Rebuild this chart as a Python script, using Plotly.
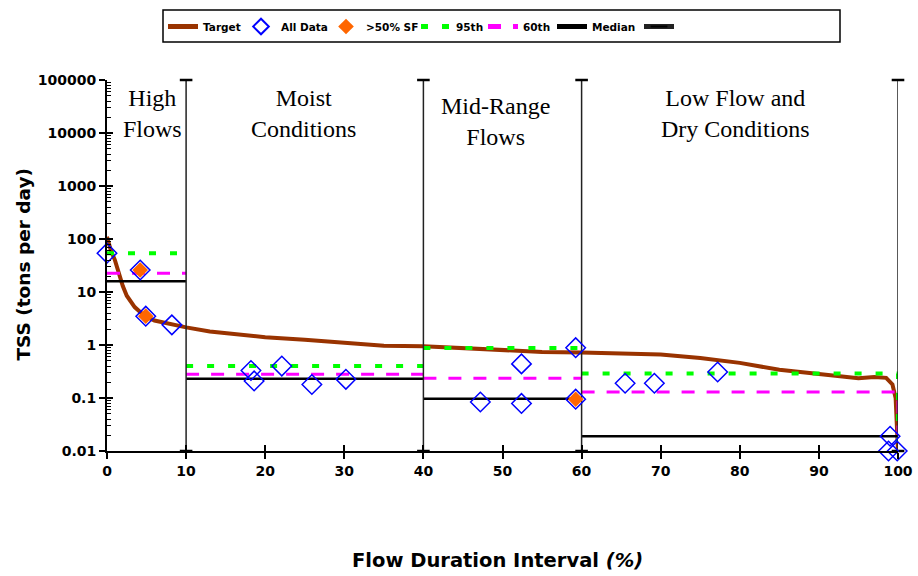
import plotly.graph_objects as go

# ---------------- data ----------------
target_x = [0, 0.5, 1, 1.5, 2, 2.5, 3, 3.5, 4.5, 5, 6, 8, 10, 13, 20, 25, 30, 35, 40, 45,
            50, 55, 60, 65, 70, 75, 80, 85, 90, 93, 95, 97, 98.5, 99.3, 99.7, 100]
target_y = [110, 60, 40, 22, 13, 8.5, 6.5, 5.2, 3.8, 3.4, 2.9, 2.5, 2.15, 1.8, 1.4, 1.25, 1.1,
            0.97, 0.95, 0.88, 0.82, 0.74, 0.72, 0.70, 0.66, 0.57, 0.46, 0.34, 0.28, 0.25,
            0.235, 0.25, 0.24, 0.18, 0.10, 0.01]

all_x = [0, 4.2, 4.9, 8.2, 18.2, 18.6, 22.1, 25.9, 30.2, 47.2, 52.4, 52.4, 59.25, 59.25,
         65.5, 69.2, 77.2, 99.0, 98.8, 99.9]
all_y = [54, 26, 3.5, 2.4, 0.33, 0.21, 0.40, 0.18, 0.225, 0.084, 0.44, 0.079, 0.89, 0.095,
         0.19, 0.19, 0.31, 0.019, 0.01, 0.01]

sf_x = [4.2, 4.9, 59.25]
sf_y = [26, 3.5, 0.095]

zone_edges = [0, 10, 40, 60, 100]
p95 = [54, 0.40, 0.88, 0.29]
p60 = [22.5, 0.28, 0.235, 0.13]
median = [16, 0.23, 0.097, 0.019]
floor_val = 0.01
top_val = 100000

y_tick_vals = [0.01, 0.1, 1, 10, 100, 1000, 10000, 100000]
y_tick_text = ["0.01", "0.1", "1", "10", "100", "1000", "10000", "100000"]

zone_labels = ["High<br>Flows", "Moist<br>Conditions", "Mid-Range<br>Flows",
               "Low Flow and<br>Dry Conditions"]
zone_label_x = [5.7, 24.9, 49.1, 79.5]
zone_label_y = [0.991, 0.991, 0.970, 0.991]

# ---------------- layout helpers ----------------
W, H = 918, 576
ML, MR, MT, MB = 107, 20, 80, 125
PW, PH = W - ML - MR, H - MT - MB


def px_to_paper_x(px):
    return (px - ML) / PW


def px_to_paper_y(py):
    return (H - MB - py) / PH


def steps(vals, drop_end=False):
    xs, ys = [], []
    for i, v in enumerate(vals):
        xs += [zone_edges[i], zone_edges[i + 1]]
        ys += [v, v]
        if drop_end and i == len(vals) - 1:
            xs.append(zone_edges[i + 1])
            ys.append(floor_val)
        xs.append(None)
        ys.append(None)
    return xs, ys


div_x, div_y = [], []
for e in zone_edges[1:]:
    div_x += [e, e, None]
    div_y += [floor_val, top_val, None]

minor_vals = [m * v for v in y_tick_vals[:-1] for m in range(2, 10)]

FONT = "DejaVu Sans, sans-serif"
legend_font = dict(family=FONT, size=10.5, color="black", weight="bold")
legend_left_px = [163, 241, 326, 416, 483, 552, 639]
legend_names = ["legend", "legend2", "legend3", "legend4", "legend5", "legend6", "legend7"]

fig = go.Figure()
fig.add_trace(go.Scatter(x=target_x, y=target_y, mode="lines", name="Target",
                         line=dict(color="#993300", width=4), legend="legend"))
x95, y95 = steps(p95, True)
fig.add_trace(go.Scatter(x=x95, y=y95, mode="lines", name="95th",
                         line=dict(color="#00FF00", width=4, dash="7px,14px"),
                         legend="legend4"))
x60, y60 = steps(p60, True)
fig.add_trace(go.Scatter(x=x60, y=y60, mode="lines", name="60th",
                         line=dict(color="#FF00FF", width=3, dash="13px,12px"),
                         legend="legend5"))
xm, ym = steps(median)
fig.add_trace(go.Scatter(x=xm, y=ym, mode="lines", name="Median",
                         line=dict(color="black", width=2.5), legend="legend6"))
fig.add_trace(go.Scatter(x=div_x, y=div_y, mode="lines+markers", name="\u00a0",
                         line=dict(color="#222", width=1.5),
                         marker=dict(symbol="line-ew", size=9,
                                     line=dict(color="black", width=2.5)),
                         cliponaxis=False, legend="legend7"))
fig.add_trace(go.Scatter(x=all_x, y=all_y, mode="markers", name="All Data",
                         marker=dict(symbol="diamond-open", size=15,
                                     line=dict(color="#0000FF", width=1.5), color="#0000FF"),
                         cliponaxis=False, legend="legend2"))
fig.add_trace(go.Scatter(x=sf_x, y=sf_y, mode="markers", name=">50% SF",
                         marker=dict(symbol="diamond", size=12, color="#FF6600",
                                     line=dict(width=0)),
                         cliponaxis=False, legend="legend3"))
# helper trace for the overlaying axes (cross ticks)
fig.add_trace(go.Scatter(x=[None], y=[None], xaxis="x2", yaxis="y2", showlegend=False,
                         hoverinfo="skip"))

for txt, xx, yy in zip(zone_labels, zone_label_x, zone_label_y):
    fig.add_annotation(text=txt, x=xx, xref="x", y=yy, yref="paper", yanchor="top",
                       showarrow=False, align="center",
                       font=dict(family="Liberation Serif, Times New Roman, serif",
                                 size=24, color="black"))

fig.add_annotation(text="Flow Duration Interval <i>(%)</i>", x=0.494, xref="paper",
                   y=-0.295, yref="paper", yanchor="middle", showarrow=False,
                   font=dict(family=FONT, size=19.5, color="black", weight="bold"))
fig.add_annotation(text="TSS (tons per day)", x=-0.105, xref="paper", xanchor="center",
                   y=0.505, yref="paper", yanchor="middle",
                   textangle=-90, showarrow=False,
                   font=dict(family=FONT, size=18.5, color="black", weight="bold"))

# legend frame
fig.add_shape(type="rect", xref="paper", yref="paper",
              x0=px_to_paper_x(163), x1=px_to_paper_x(840),
              y0=px_to_paper_y(42), y1=px_to_paper_y(10),
              line=dict(color="black", width=1.5), fillcolor="white", layer="below")

legend_layout = {}
for name, lx in zip(legend_names, legend_left_px):
    legend_layout[name] = dict(orientation="h", x=px_to_paper_x(lx), xanchor="left",
                               y=px_to_paper_y(12), yanchor="top",
                               bgcolor="rgba(0,0,0,0)", borderwidth=0,
                               font=legend_font, itemwidth=30, itemsizing="constant")

axis_font = dict(family=FONT, size=14, color="black", weight="bold")
fig.update_layout(
    width=W, height=H,
    margin=dict(l=ML, r=MR, t=MT, b=MB, autoexpand=False),
    plot_bgcolor="white", paper_bgcolor="white",
    showlegend=True,
    **legend_layout,
    xaxis=dict(range=[0, 100], dtick=10, showgrid=False, zeroline=False,
               showline=True, linecolor="black", linewidth=2, automargin=False,
               ticks="outside", ticklen=6, tickwidth=1.5, tickcolor="black",
               tickfont=axis_font),
    yaxis=dict(type="log", range=[-2, 5], tickmode="array", tickvals=y_tick_vals,
               ticktext=y_tick_text, automargin=False,
               showgrid=False, zeroline=False, showline=True, linecolor="black",
               linewidth=2, ticks="outside", ticklen=6, tickwidth=1.5, tickcolor="black",
               tickfont=axis_font,
               minor=dict(tickmode="array", tickvals=minor_vals, ticks="inside",
                          ticklen=4, tickwidth=1, tickcolor="black", showgrid=False)),
    xaxis2=dict(range=[0, 100], dtick=10, overlaying="x", anchor="y2", showgrid=False,
                zeroline=False, showticklabels=False, ticks="inside", ticklen=6,
                tickwidth=1.5, tickcolor="black", showline=False, automargin=False),
    yaxis2=dict(type="log", range=[-2, 5], tickmode="array", tickvals=y_tick_vals,
                overlaying="y", anchor="x2", automargin=False,
                showgrid=False, zeroline=False, showticklabels=False, ticks="inside",
                ticklen=6, tickwidth=1.5, tickcolor="black", showline=False),
)

fig.write_html("out.html")
